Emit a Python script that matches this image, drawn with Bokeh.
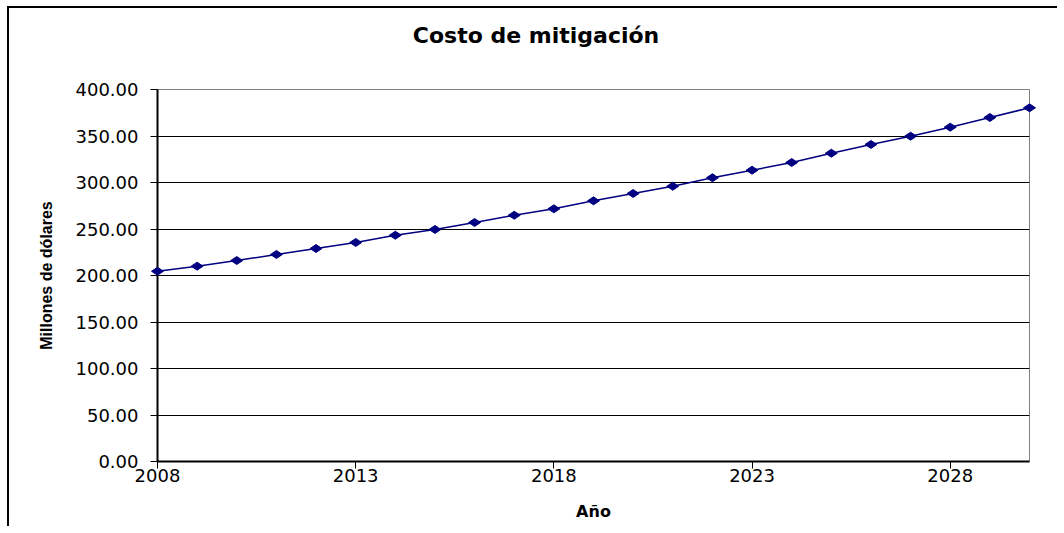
import math
from bokeh.plotting import figure
from bokeh.models import Range1d, FixedTicker, ColumnDataSource
from bokeh.core.properties import value
from bokeh.embed import file_html
from bokeh.resources import INLINE

years = list(range(2008, 2031))
costs = [204.6, 210.0, 216.1, 222.6, 229.0, 235.5, 243.3, 249.5, 257.0, 264.8,
         271.7, 280.3, 288.2, 296.0, 305.1, 313.2, 321.5, 331.5, 340.9, 349.8,
         359.5, 369.9, 380.3]
x_ticks = [2008, 2013, 2018, 2023, 2028]
y_ticks = [0, 50, 100, 150, 200, 250, 300, 350, 400]
y_tick_labels = {v: f"{v:.2f}" for v in y_ticks}
title_text = ["Costo de mitigación"]
title_x = [2017.55]
title_y = [458.5]
x_label = "Año"
y_label = "Millones de dólares"

src = ColumnDataSource(dict(year=years, cost=costs))

p = figure(width=1050, height=520, output_backend="svg", toolbar_location=None,
           x_range=Range1d(2008, 2030), y_range=Range1d(0, 400),
           min_border_left=148, min_border_right=30, min_border_top=81,
           min_border_bottom=67,
           styles={"margin-left": "7px", "margin-top": "6px",
                   "border-top": "2px solid black", "border-left": "2px solid black"})
p.title.visible = False
p.outline_line_color = "#808080"
p.outline_line_width = 1

# axes
p.xaxis.ticker = FixedTicker(ticks=x_ticks)
p.yaxis.ticker = FixedTicker(ticks=y_ticks)
p.yaxis.major_label_overrides = y_tick_labels
for ax in (p.xaxis[0], p.yaxis[0]):
    ax.axis_line_color = "black"
    ax.axis_line_width = 2
    ax.major_tick_line_color = "black"
    ax.major_tick_out = 7
    ax.major_tick_in = 0
    ax.minor_tick_out = 0
    ax.minor_tick_in = 0
    ax.major_label_text_font = "DejaVu Sans"
    ax.major_label_text_font_size = "18px"
    ax.major_label_text_color = "black"
    ax.axis_label_text_font_style = "bold"
    ax.axis_label_text_color = "black"
p.yaxis.major_label_standoff = 12
p.xaxis.major_label_standoff = 0
p.xaxis.axis_label = x_label
p.xaxis.axis_label_text_font = "DejaVu Sans"
p.xaxis.axis_label_text_font_size = "16px"
p.xaxis.axis_label_standoff = 17
p.yaxis.axis_label = y_label
p.yaxis.axis_label_text_font = "Liberation Sans"
p.yaxis.axis_label_text_font_size = "16px"
p.yaxis.axis_label_standoff = 18

# grid
p.xgrid.visible = False
p.ygrid.ticker = FixedTicker(ticks=[t for t in y_ticks if 0 < t < 400])
p.ygrid.grid_line_color = "black"
p.ygrid.grid_line_width = 1

# series
p.line("year", "cost", source=src, line_color="#000080", line_width=1.5)
r = p.scatter("year", "cost", source=src, marker="diamond", angle=math.pi / 2,
              size=12, fill_color="#000080", line_color="#000080")
r.level = "overlay"

t = p.text(x=title_x, y=title_y, text=title_text, text_align="center",
           text_baseline="middle", text_font=value("DejaVu Sans"),
           text_font_style="bold", text_font_size="22px", text_color="black")
t.level = "overlay"

open("out.html", "w").write(file_html(p, INLINE))
